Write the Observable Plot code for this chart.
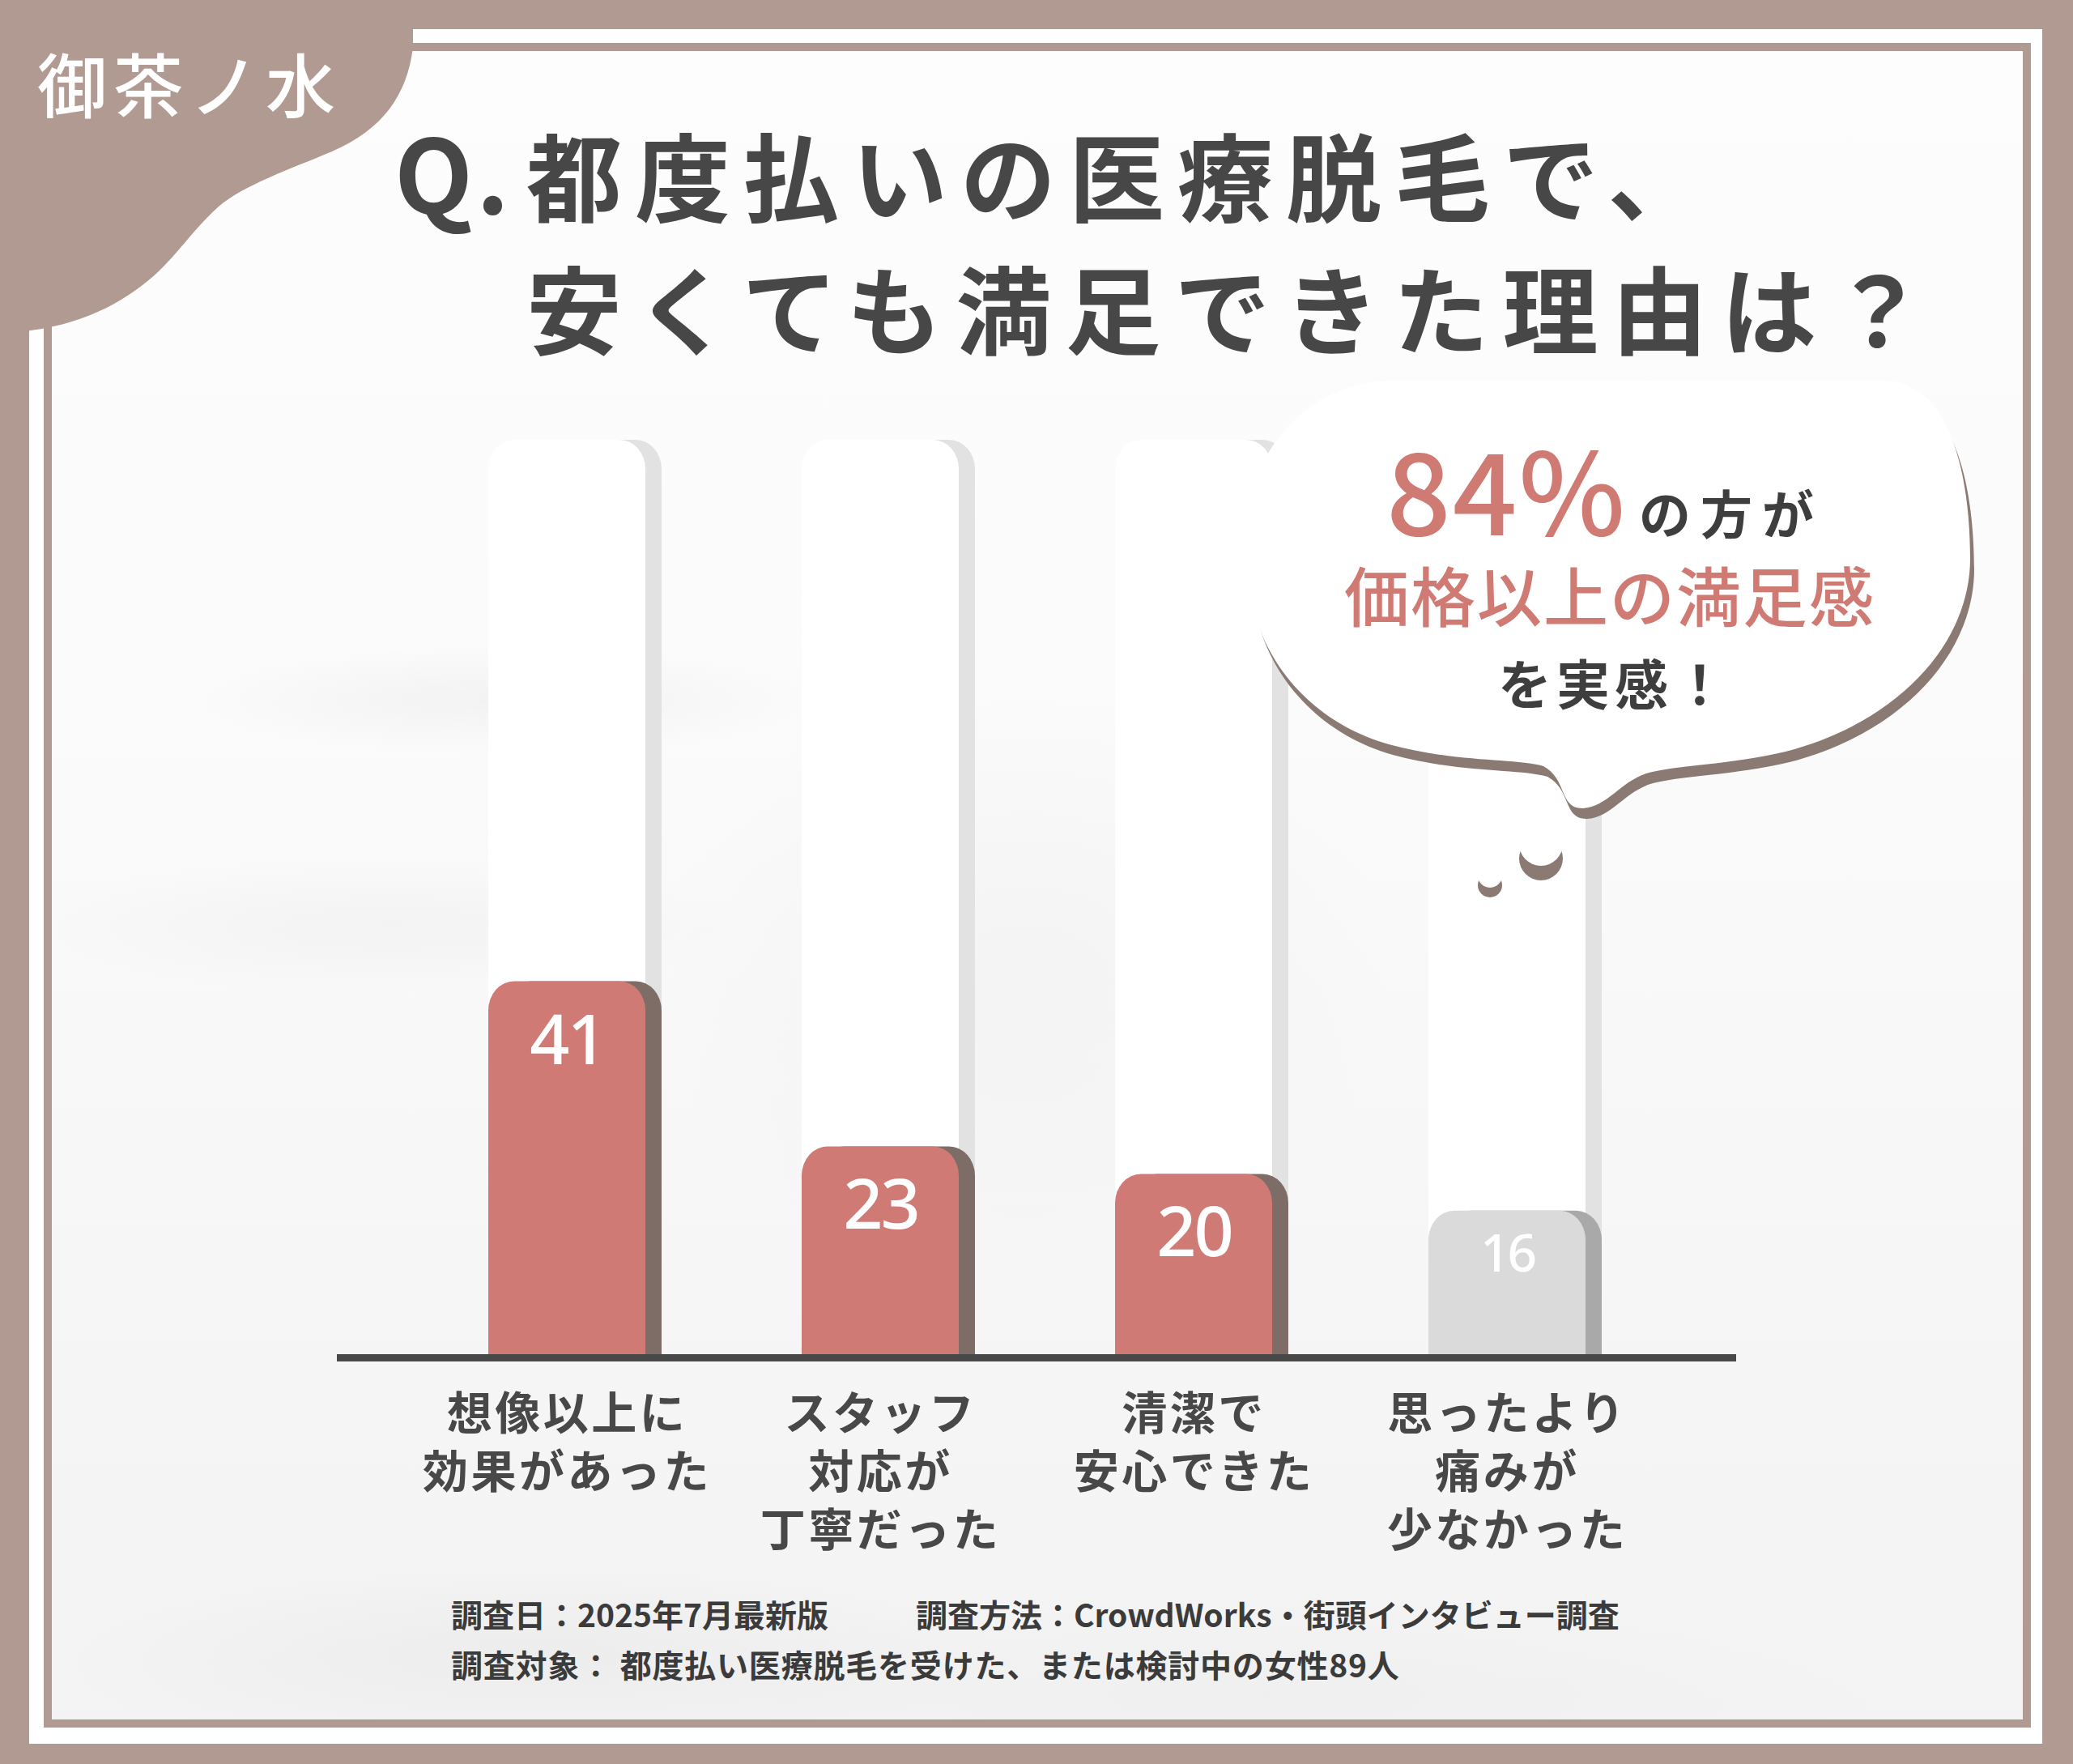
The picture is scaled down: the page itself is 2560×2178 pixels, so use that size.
<!DOCTYPE html>
<html>
<head>
<meta charset="utf-8">
<script src="https://cdn.jsdelivr.net/npm/d3@7"></script>
<script src="https://cdn.jsdelivr.net/npm/@observablehq/plot@0.6"></script>
<style>
html, body { margin: 0; padding: 0; background: #b09a92; }
#page { position: relative; width: 2560px; height: 2178px; overflow: hidden; background: #b09a92; font-family: "Noto Sans CJK JP", sans-serif; }
#panel { position: absolute; left: 36px; top: 36px; width: 2486px; height: 2117px; background: #ffffff; }
#inner { position: absolute; left: 64px; top: 63px; width: 2434px; height: 2060px;
  background:
    radial-gradient(ellipse 520px 90px at 560px 800px, rgba(232,232,232,0.45), rgba(232,232,232,0) 75%),
    radial-gradient(ellipse 600px 110px at 420px 1080px, rgba(234,234,234,0.4), rgba(234,234,234,0) 75%),
    radial-gradient(ellipse 800px 160px at 600px 1980px, rgba(230,230,230,0.5), rgba(230,230,230,0) 75%),
    radial-gradient(ellipse 1000px 180px at 1500px 2030px, rgba(236,236,236,0.5), rgba(236,236,236,0) 75%),
    radial-gradient(ellipse 600px 500px at 1200px 1150px, rgba(238,238,238,0.45), rgba(238,238,238,0) 75%),
    linear-gradient(to bottom, #fdfdfd 0%, #fbfbfb 35%, #f6f6f6 75%, #f3f3f3 100%); }
#frameline { position: absolute; left: 54px; top: 53px; width: 2454px; height: 2080px; border: 10px solid #b09a92; box-sizing: border-box; }
#chart { position: absolute; left: 0; top: 0; width: 2560px; height: 2178px; }
#chart svg { max-width: none !important; }
#chart g[aria-label="x-axis tick label"] text { letter-spacing: 3.5px; font-weight: 700; }
#overlay { position: absolute; left: 0; top: 0; }
</style>
</head>
<body>
<div id="page">
  <div id="panel"></div>
  <div id="inner"></div>
  <div id="frameline"></div>
  <div id="chart"></div>
  <svg id="overlay" width="2560" height="2178" xmlns="http://www.w3.org/2000/svg"></svg>
</div>
<script>
// ---- data ----
const categories = [
  "想像以上に\n効果があった",
  "スタッフ\n対応が\n丁寧だった",
  "清潔で\n安心できた",
  "思ったより\n痛みが\n少なかった"
];
const values = [41, 23, 20, 16];
const highlighted = [true, true, true, false];
const trackValue = 100;

const brandText = "御茶ノ水";
const titleQ = "Q.";
const titleLine1 = "都度払いの医療脱毛で、";
const titleLine2 = "安くても満足できた理由は？";
const bubbleBig = "84%";
const bubbleSmall = "の方が";
const bubbleLine2 = "価格以上の満足感";
const bubbleLine3 = "を実感！";
const captionDate = "調査日：2025年7月最新版";
const captionMethod = "調査方法：CrowdWorks・街頭インタビュー調査";
const captionTarget = "調査対象： 都度払い医療脱毛を受けた、または検討中の女性89人";

// ---- chart ----
const rows = categories.map((category, i) => ({category, value: values[i], hi: highlighted[i]}));

const RED = "#cf7a75", RED_SH = "#7e6d67", GREY = "#dadada", GREY_SH = "#a9a9a9";
const TRACK = "#ffffff", TRACK_SH = "#e2e2e2";
const SH_DX = 20, RX = 32, RY = 36;

function roundedBar(yAcc, fill, dx) {
  return [
    Plot.barY(rows, {x: "category", y: yAcc, fill, dx, rx: RX, ry: RY}),
    Plot.barY(rows, {x: "category", y: d => yAcc(d) / 2, fill, dx})
  ];
}

const chart = Plot.plot({
  width: 2560,
  height: 2178,
  marginLeft: 416,
  marginRight: 416,
  marginTop: 543,
  marginBottom: 502,
  x: {domain: categories, paddingInner: 0.5, paddingOuter: 0.48},
  y: {domain: [0, 100], axis: null},
  color: {type: "identity"},
  style: {background: "transparent", color: "#484848", fontFamily: "'Noto Sans CJK JP', sans-serif", overflow: "visible"},
  marks: [
    ...roundedBar(() => trackValue, TRACK_SH, SH_DX),
    ...roundedBar(() => trackValue, TRACK, 0),
    ...roundedBar(d => d.value, d => d.hi ? RED_SH : GREY_SH, SH_DX),
    ...roundedBar(d => d.value, d => d.hi ? RED : GREY, 0),
    Plot.ruleY([0], {stroke: "#484848", strokeWidth: 9}),
    Plot.text(rows.filter(d => d.hi), {x: "category", y: "value", text: d => String(d.value), dy: 74,
      fill: "white", fontSize: 86, fontWeight: 500, fontFamily: "'Noto Sans', sans-serif"}),
    Plot.text(rows.filter(d => !d.hi), {x: "category", y: "value", text: d => String(d.value), dy: 54,
      fill: "white", fontSize: 64, fontWeight: 500, fontFamily: "'Noto Sans', sans-serif"}),
    Plot.axisX({tickSize: 0, tickPadding: 37, fontSize: 56, fontWeight: 700, lineHeight: 1.29, label: null})
  ]
});
chart.querySelectorAll('text').forEach(t => { if (t.closest('g[aria-label="text"]')) t.setAttribute('letter-spacing', '-3'); });
document.getElementById("chart").appendChild(chart);

// ---- decorations & texts ----
const ov = d3.select("#overlay");
const FONT = "'Noto Sans CJK JP', sans-serif";

// corner blob
ov.append("path")
  .attr("d", "M0,0 H510 V58 C503,118 472,160 410,187 C358,209 302,228 270,255 C240,282 222,310 196,335 C160,368 112,398 38,408 L0,412 Z")
  .attr("fill", "#b09a92");

ov.append("text").text(brandText)
  .attr("x", 46).attr("y", 139)
  .attr("font-family", FONT).attr("font-size", 86).attr("font-weight", 500)
  .attr("letter-spacing", 8).attr("fill", "#ffffff");

// title
const titleColor = "#474747";
ov.append("text").text(titleQ)
  .attr("x", 487).attr("y", 264)
  .attr("font-family", FONT).attr("font-size", 126).attr("font-weight", 700)
  .attr("letter-spacing", 4).attr("fill", titleColor);
ov.append("text").text(titleLine1)
  .attr("x", 650).attr("y", 265)
  .attr("font-family", FONT).attr("font-size", 118).attr("font-weight", 700)
  .attr("letter-spacing", 16).attr("fill", titleColor);
ov.append("text").text(titleLine2)
  .attr("x", 650).attr("y", 429)
  .attr("font-family", FONT).attr("font-size", 118).attr("font-weight", 700)
  .attr("letter-spacing", 17).attr("fill", titleColor);

// speech bubble
const bubblePath = "M1540,700 C1540,620 1552,572 1580,540 C1610,500 1660,470 1720,470 L2330,470 C2410,475 2433,590 2433,690 " +
  "C2433,790 2350,890 2205,928 C2140,944 2065,945 2033,955 C2000,966 1985,996 1955,998 " +
  "C1925,999 1936,962 1906,946 C1870,936 1800,942 1715,919 C1620,892 1545,812 1540,700 Z";
const SHADOW = "#8b7a73";
ov.append("path").attr("d", bubblePath).attr("fill", SHADOW).attr("transform", "translate(5,13)");
ov.append("path").attr("d", bubblePath).attr("fill", "#ffffff");
// drops
ov.append("circle").attr("cx", 1903).attr("cy", 1060).attr("r", 27).attr("fill", SHADOW);
ov.append("circle").attr("cx", 1903).attr("cy", 1042).attr("r", 27).attr("fill", "#ffffff");
ov.append("circle").attr("cx", 1840).attr("cy", 1093).attr("r", 15).attr("fill", SHADOW);
ov.append("circle").attr("cx", 1840).attr("cy", 1081).attr("r", 15).attr("fill", "#ffffff");

const CORAL = "#d07a74", DARK = "#3e3e3e";
ov.append("text").text(bubbleBig)
  .attr("x", 1712).attr("y", 661)
  .attr("font-family", FONT).attr("font-size", 140).attr("font-weight", 500)
  .attr("letter-spacing", 2).attr("fill", CORAL);
ov.append("text").text(bubbleSmall)
  .attr("x", 2024).attr("y", 659)
  .attr("font-family", FONT).attr("font-size", 64).attr("font-weight", 700)
  .attr("letter-spacing", 12).attr("fill", DARK);
ov.append("text").text(bubbleLine2)
  .attr("x", 1988).attr("y", 767).attr("text-anchor", "middle")
  .attr("font-family", FONT).attr("font-size", 80).attr("font-weight", 500)
  .attr("letter-spacing", 2).attr("fill", CORAL);
ov.append("text").text(bubbleLine3)
  .attr("x", 1994).attr("y", 870).attr("text-anchor", "middle")
  .attr("font-family", FONT).attr("font-size", 66).attr("font-weight", 700)
  .attr("letter-spacing", 6).attr("fill", DARK);

// caption
const CAP = "#3b3b3b";
[[captionDate, 557, 2009, 0], [captionMethod, 1131, 2009, 0], [captionTarget, 557, 2071, 0.8]].forEach(([t, x, y, ls]) => {
  ov.append("text").text(t).attr("x", x).attr("y", y)
    .attr("font-family", FONT).attr("font-size", 39).attr("font-weight", 700)
    .attr("letter-spacing", ls).attr("fill", CAP);
});
</script>
</body>
</html>
